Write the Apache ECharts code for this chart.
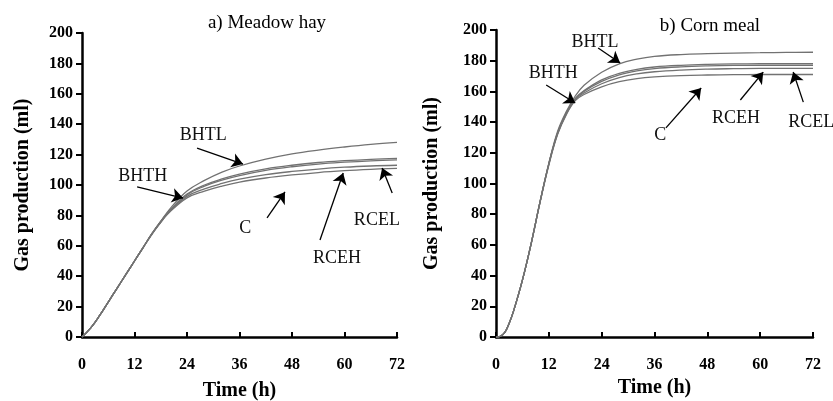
<!DOCTYPE html>
<html>
<head>
<meta charset="utf-8">
<script src="https://cdn.jsdelivr.net/npm/echarts@6/dist/echarts.min.js"></script>
<style>
  html, body { margin: 0; padding: 0; background: #fff; }
  #chart { width: 833px; height: 401px; }
</style>
</head>
<body>
<div id="chart"></div>
<script>
// a) Meadow hay - sampled hours and gas production (ml)
const hayHours = [0, 2, 4, 6, 8, 10, 12, 14, 16, 18, 20, 24, 28, 32, 36, 42, 48, 54, 60, 66, 72];
const hayBHTL = [0, 6, 14, 23, 32, 41, 50, 59, 68, 76, 84, 96, 103, 108.5, 112.5, 117, 120.5, 123, 125, 126.7, 128];
const hayBHTH = [0, 6, 14, 23, 32, 41, 50, 59, 68, 76, 83, 94, 100, 104, 107.2, 110.6, 113, 114.8, 116, 116.9, 117.5];
const hayRCEH = [0, 6, 14, 23, 32, 41, 50, 59, 68, 76, 83, 93.5, 99.2, 103.2, 106.2, 109.6, 112, 113.8, 115, 115.9, 116.5];
const hayRCEL = [0, 6, 14, 23, 32, 41, 50, 59, 68, 75.5, 82.5, 92.5, 97.5, 101, 103.8, 106.8, 108.9, 110.5, 111.7, 112.5, 113];
const hayC    = [0, 6, 14, 23, 32, 41, 50, 59, 67.5, 75.5, 82, 91.5, 96, 99.3, 101.9, 104.6, 106.6, 108.2, 109.4, 110.3, 111];

// b) Corn meal
const cornHours = [0, 1, 2, 3, 4, 6, 8, 10, 12, 14, 16, 18, 20, 24, 28, 32, 36, 42, 48, 54, 60, 66, 72];
const cornBHTL = [0, 0.5, 3, 9, 17, 37, 61, 88, 113, 134, 147, 157, 164, 172.5, 178, 181, 182.8, 184, 184.6, 185, 185.2, 185.4, 185.5];
const cornBHTH = [0, 0.5, 3, 9, 17, 37, 61, 88, 113, 133, 146, 155.5, 160.5, 167.5, 171.8, 174.4, 175.9, 177, 177.6, 177.9, 178, 178, 178];
const cornRCEH = [0, 0.5, 3, 9, 17, 37, 61, 88, 113, 133, 146, 155, 160, 166.5, 170.8, 173.4, 174.9, 176, 176.6, 176.9, 177, 177, 177];
const cornRCEL = [0, 0.5, 3, 9, 17, 37, 61, 88, 112.5, 132.5, 145.5, 154.5, 159, 165, 169, 171.4, 172.8, 173.9, 174.5, 174.8, 175, 175, 175];
const cornC    = [0, 0.5, 3, 9, 17, 37, 61, 87.5, 112, 132, 145, 154, 158, 163, 166.3, 168.3, 169.4, 170.3, 170.7, 170.9, 171, 171, 171];

const treatments = ['BHTL', 'BHTH', 'RCEH', 'RCEL', 'C'];
const hayValues = [hayBHTL, hayBHTH, hayRCEH, hayRCEL, hayC];
const cornValues = [cornBHTL, cornBHTH, cornRCEH, cornRCEL, cornC];
const yTicks = [0, 20, 40, 60, 80, 100, 120, 140, 160, 180, 200];
const xTicks = [0, 12, 24, 36, 48, 60, 72];

// arrow annotations in data coordinates: label position, arrow tail, arrow head
const hayNotes = [
  { name: 'BHTL', text: [27.7, 133], from: [26.3, 124.3], to: [36.8, 113.8] },
  { name: 'BHTH', text: [13.9, 106], from: [12.6, 98.7], to: [23.1, 91.4] },
  { name: 'C',    text: [37.3, 71.7], from: [42.3, 78.3], to: [46.4, 95.4] },
  { name: 'RCEH', text: [58.3, 52], from: [54.4, 63.8], to: [59.7, 107.9] },
  { name: 'RCEL', text: [67.4, 77], from: [70.9, 94.7], to: [68.6, 111.2] }
];
const cornNotes = [
  { name: 'BHTL', text: [22.5, 192], from: [23.2, 188.3], to: [28.2, 178.5] },
  { name: 'BHTH', text: [13, 172], from: [11.4, 164.2], to: [18, 152.4] },
  { name: 'C',    text: [37.3, 131.6], from: [38.6, 136.2], to: [46.6, 162.2] },
  { name: 'RCEH', text: [54.5, 142.7], from: [55.5, 154.4], to: [60.7, 172.6] },
  { name: 'RCEL', text: [71.6, 140], from: [69.8, 153], to: [67.5, 172.6] }
];

const serif = '"Liberation Serif", "DejaVu Serif", serif';
const chart = echarts.init(document.getElementById('chart'));

function xAxisFor(idx, gap) {
  return {
    type: 'value', gridIndex: idx, min: 0, max: 72, interval: 12,
    name: 'Time (h)', nameLocation: 'middle', nameGap: gap,
    nameTextStyle: { fontFamily: serif, fontWeight: 'bold', fontSize: 20, color: '#000' },
    axisLine: { onZero: false, lineStyle: { color: '#000', width: 2.5 } },
    axisTick: { inside: true, length: 5, lineStyle: { color: '#000', width: 2 } },
    axisLabel: { margin: 20, fontFamily: serif, fontWeight: 'bold', fontSize: 16, color: '#000',
      formatter: v => xTicks.includes(v) ? String(v) : '' },
    splitLine: { show: false }
  };
}

function yAxisFor(idx, gap) {
  return {
    type: 'value', gridIndex: idx, min: 0, max: 200, interval: 20,
    name: 'Gas production (ml)', nameLocation: 'middle', nameGap: gap,
    nameTextStyle: { fontFamily: serif, fontWeight: 'bold', fontSize: 20, color: '#000' },
    axisLine: { show: true, lineStyle: { color: '#000', width: 2.5 } },
    axisTick: { show: true, length: 6, lineStyle: { color: '#000', width: 2 } },
    axisLabel: { margin: 9, fontFamily: serif, fontWeight: 'bold', fontSize: 16, color: '#000',
      formatter: v => yTicks.includes(v) ? String(v) : '' },
    splitLine: { show: false }
  };
}

function curves(hours, values, idx, notes) {
  return values.map((vals, i) => {
    const s = {
      name: treatments[i],
      type: 'line',
      xAxisIndex: idx, yAxisIndex: idx,
      data: hours.map((h, k) => [h, vals[k]]),
      showSymbol: false,
      smooth: 0.4,
      lineStyle: { color: '#727272', width: 1.3 },
      emphasis: { disabled: true },
      silent: true
    };
    if (i === 0) {
      // arrows
      s.markLine = {
        silent: true,
        symbol: ['none', 'arrow'],
        symbolSize: 11,
        label: { show: false },
        lineStyle: { color: '#000', width: 1.3, type: 'solid' },
        data: notes.map(n => [{ coord: n.from }, { coord: n.to }])
      };
      // text labels
      s.markPoint = {
        silent: true,
        symbol: 'circle',
        symbolSize: 1,
        itemStyle: { color: 'rgba(0,0,0,0)' },
        label: { show: true, position: 'inside', formatter: '{b}',
          fontFamily: serif, fontSize: 18, color: '#111' },
        data: notes.map(n => ({ name: n.name, coord: n.text }))
      };
    }
    return s;
  });
}

const option = {
  backgroundColor: '#fff',
  animation: false,
  title: [
    { text: 'a) Meadow hay', left: 262, top: 9, textAlign: 'center',
      textStyle: { fontFamily: serif, fontWeight: 'normal', fontSize: 19, color: '#000' } },
    { text: 'b) Corn meal', left: 705, top: 12, textAlign: 'center',
      textStyle: { fontFamily: serif, fontWeight: 'normal', fontSize: 19, color: '#000' } }
  ],
  grid: [
    { left: 82, top: 33, width: 315, height: 304, outerBoundsMode: 'none' },
    { left: 496, top: 30, width: 317, height: 307, outerBoundsMode: 'none' }
  ],
  xAxis: [xAxisFor(0, 44), xAxisFor(1, 41)],
  yAxis: [yAxisFor(0, 49), yAxisFor(1, 54)],
  series: [
    ...curves(hayHours, hayValues, 0, hayNotes),
    ...curves(cornHours, cornValues, 1, cornNotes)
  ]
};

chart.setOption(option);
</script>
</body>
</html>
